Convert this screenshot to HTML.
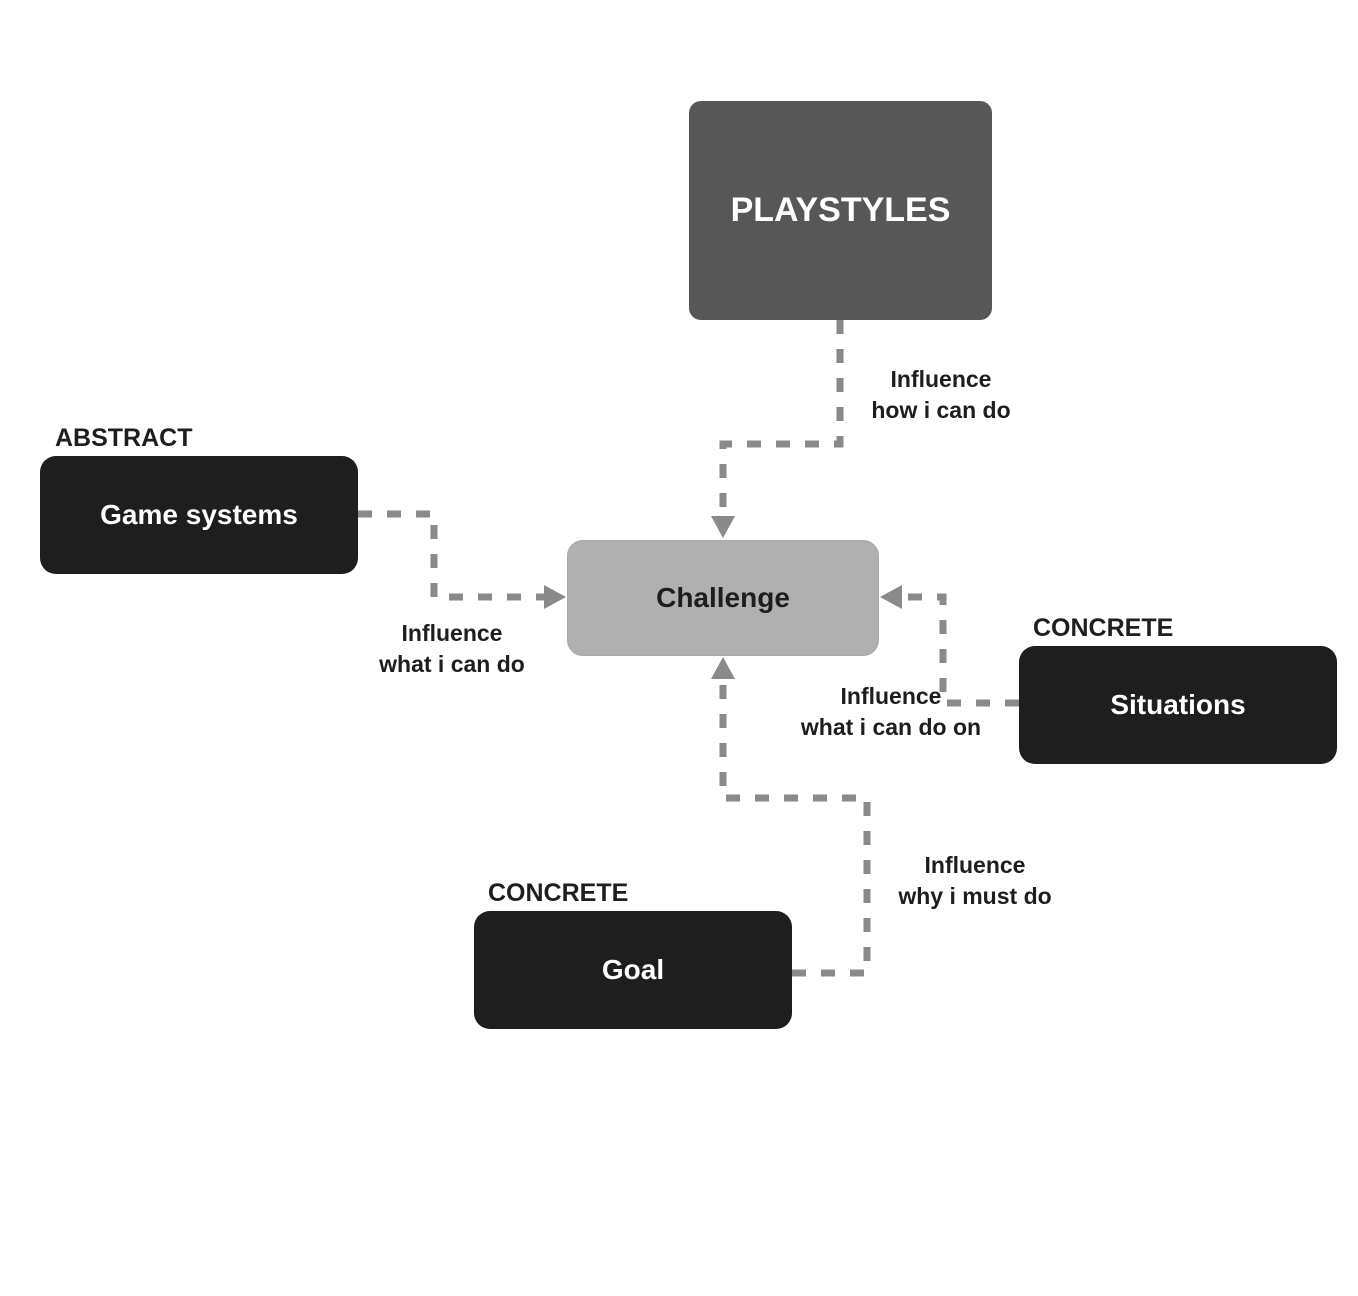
<!DOCTYPE html>
<html><head><meta charset="utf-8"><style>
body{margin:0;background:#fff;}
.wrap{position:relative;width:1358px;height:1296px;overflow:hidden;font-family:"Liberation Sans",sans-serif;font-weight:bold;}
.box{position:absolute;display:flex;align-items:center;justify-content:center;color:#fff;box-sizing:border-box;}
.lbl{position:absolute;color:#1e1e1e;font-size:25px;white-space:nowrap;}
.cl{position:absolute;color:#1e1e1e;font-size:23px;text-align:center;line-height:31px;white-space:nowrap;}
</style></head><body><div class="wrap">
<svg width="1358" height="1296" style="position:absolute;left:0;top:0">
<g fill="none" stroke="#8a8a8a" stroke-width="7" stroke-dasharray="14 15">
<polyline points="840,320 840,444 723,444 723,522"/>
<polyline points="358,514 434,514 434,597 548,597"/>
<polyline points="1019,703 943,703 943,597 898,597"/>
<polyline points="792,973 867,973 867,798 723,798 723,676"/>
</g>
<g fill="#8a8a8a">
<polygon points="711,516 735,516 723,538"/>
<polygon points="544,585 544,609 566,597"/>
<polygon points="902,585 902,609 880,597"/>
<polygon points="711,679 735,679 723,657"/>
</g>
</svg>
<div class="box" style="left:689px;top:101px;width:303px;height:219px;background:#575757;border-radius:12px;font-size:34px;">PLAYSTYLES</div>
<div class="box" style="left:40px;top:456px;width:318px;height:118px;background:#1e1e1e;border-radius:16px;font-size:28px;">Game systems</div>
<div class="box" style="left:567px;top:540px;width:312px;height:116px;background:#b0b0b0;border:1px solid #a8a8a8;border-radius:16px;font-size:28px;color:#1e1e1e;">Challenge</div>
<div class="box" style="left:1019px;top:646px;width:318px;height:118px;background:#1e1e1e;border-radius:16px;font-size:28px;">Situations</div>
<div class="box" style="left:474px;top:911px;width:318px;height:118px;background:#1e1e1e;border-radius:16px;font-size:28px;">Goal</div>
<div class="lbl" style="left:55px;top:424px;">ABSTRACT</div>
<div class="lbl" style="left:1033px;top:614px;">CONCRETE</div>
<div class="lbl" style="left:488px;top:879px;">CONCRETE</div>
<div class="cl" style="left:861px;top:364px;width:160px;">Influence<br>how i can do</div>
<div class="cl" style="left:367px;top:618px;width:170px;">Influence<br>what i can do</div>
<div class="cl" style="left:786px;top:681px;width:210px;">Influence<br>what i can do on</div>
<div class="cl" style="left:885px;top:850px;width:180px;">Influence<br>why i must do</div>
</div></body></html>
